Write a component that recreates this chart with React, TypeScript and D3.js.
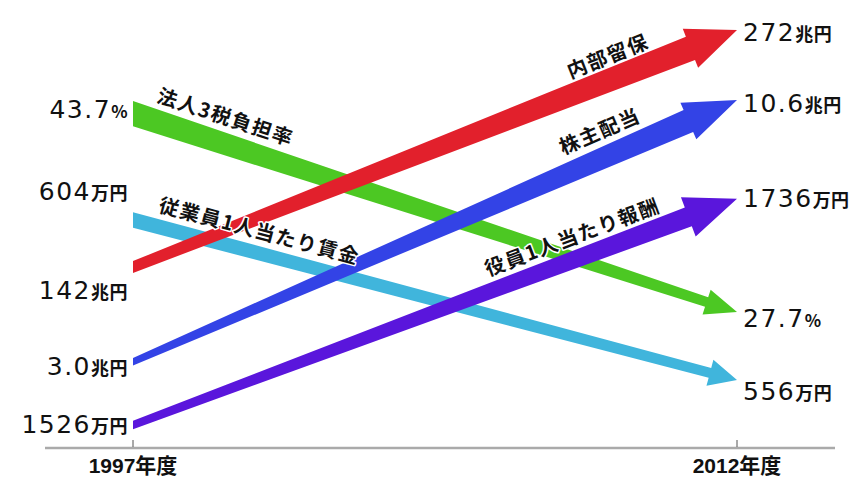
import React from "react";
import * as d3 from "d3";

// ---- data ----
const seriesNames = ["法人3税負担率", "従業員1人当たり賃金", "内部留保", "株主配当", "役員1人当たり報酬"];
const values1997 = [43.7, 604, 142, 3.0, 1526];
const values2012 = [27.7, 556, 272, 10.6, 1736];
const units = ["%", "万円", "兆円", "兆円", "万円"];
const decimals = [1, 0, 0, 1, 0];
const years = [1997, 2012];
const yearLabels = ["1997年度", "2012年度"];
const colors = ["#4cc823", "#40b5dc", "#e2202c", "#3343e6", "#5a16dc"];

// ---- layout (rows on an abstract 0..1 vertical layout scale) ----
const startRow = [0.212, 0.481, 0.6, 0.84, 1.0];
const endRow = [0.714, 0.886, 0.0, 0.177, 0.427];
const leftLabelRow = [0.223, 0.43, 0.681, 0.873, 1.02];
const rightLabelRow = [0.752, 0.937, 0.028, 0.208, 0.448];
const startWidth = [24, 15, 11, 7, 8];
const endWidth = [10, 10, 25, 24, 20];
const headHalf = [13, 13.5, 21, 20, 21];
const headLen = [32, 28, 50, 53, 52];
const labelT = [0.14, 0.2, 0.8, 0.79, 0.74];
const labelOffset = [27, 23, 24, 27, 23];

const W = 854;
const H = 480;

export default function App() {
  const x = d3.scaleLinear().domain([1997, 2012]).range([133, 737]);
  const y = d3.scaleLinear().domain([0, 1]).range([30, 425]);
  const numFont = "'DejaVu Sans', sans-serif";
  const cjk = "'Noto Sans CJK JP', sans-serif";

  const arrows = seriesNames.map((name, i) => {
    const x0 = x(years[0]);
    const y0 = y(startRow[i]);
    const x1 = x(years[1]);
    const y1 = y(endRow[i]);
    const a = Math.atan2(y1 - y0, x1 - x0);
    const ux = Math.cos(a), uy = Math.sin(a);
    const nx = -Math.sin(a), ny = Math.cos(a);
    const v0 = startWidth[i] / Math.cos(a);
    const bx = x1 - headLen[i] * ux, by = y1 - headLen[i] * uy;
    const w1 = endWidth[i] / 2;
    const hw = headHalf[i];
    const pts: [number, number][] = [
      [x0, y0 - v0 / 2],
      [bx - nx * w1, by - ny * w1],
      [bx - nx * hw, by - ny * hw],
      [x1, y1],
      [bx + nx * hw, by + ny * hw],
      [bx + nx * w1, by + ny * w1],
      [x0, y0 + v0 / 2],
    ];
    const line = d3.line();
    const path = line(pts) + "Z";
    const t = labelT[i];
    const px = x0 + t * (x1 - x0) - nx * labelOffset[i];
    const py = y0 + t * (y1 - y0) - ny * labelOffset[i];
    return { name, path, x0, y0, x1, y1, a, px, py, i };
  });

  const fmt = (v: number, d: number) => d3.format(`.${d}f`)(v);
  const unitSize = (u: string) => (u === "%" ? 17 : 18);

  return (
    <svg
      width={W}
      height={H}
      style={{ position: "absolute", left: 0, top: 0, display: "block", background: "#fff" }}
    >
      <rect x={0} y={0} width={W} height={H} fill="#fff" />
      {/* axis */}
      <line x1={45} x2={835} y1={448} y2={448} stroke="#aaaaaa" strokeWidth={2.5} />
      {years.map((yr, k) => (
        <g key={yr}>
          <line x1={x(yr)} x2={x(yr)} y1={440} y2={447} stroke="#555" strokeWidth={1} />
          <text
            x={x(yr)}
            y={473}
            textAnchor="middle"
            fontFamily={"'Liberation Sans', " + cjk}
            fontWeight={700}
            fontSize={21}
            fill="#111"
          >
            {yearLabels[k]}
          </text>
        </g>
      ))}
      {/* arrows */}
      {arrows.map((ar) => (
        <path key={ar.name} d={ar.path} fill={colors[ar.i]} />
      ))}
      {/* series labels */}
      {arrows.map((ar) => (
        <text
          key={"l" + ar.name}
          x={0}
          y={0}
          transform={`translate(${ar.px},${ar.py}) rotate(${(ar.a * 180) / Math.PI})`}
          textAnchor="middle"
          dominantBaseline="central"
          fontFamily={cjk}
          fontWeight={700}
          fontSize={20}
          letterSpacing={1.5}
          fill="#111"
          stroke="#fff"
          strokeWidth={3}
          paintOrder="stroke"
          strokeLinejoin="round"
        >
          {ar.name}
        </text>
      ))}
      {/* value labels */}
      {arrows.map((ar) => (
        <g key={"v" + ar.name}>
          <text
            x={128}
            y={y(leftLabelRow[ar.i])}
            textAnchor="end"
            fontFamily={numFont}
            fontSize={25}
            letterSpacing={1.5}
            fill="#111"
          >
            {fmt(values1997[ar.i], decimals[ar.i])}
            <tspan fontFamily={cjk} fontWeight={700} fontSize={unitSize(units[ar.i])} letterSpacing={0.5}>
              {units[ar.i]}
            </tspan>
          </text>
          <text
            x={743}
            y={y(rightLabelRow[ar.i])}
            textAnchor="start"
            fontFamily={numFont}
            fontSize={25}
            letterSpacing={1.5}
            fill="#111"
          >
            {fmt(values2012[ar.i], decimals[ar.i])}
            <tspan fontFamily={cjk} fontWeight={700} fontSize={unitSize(units[ar.i])} letterSpacing={0.5}>
              {units[ar.i]}
            </tspan>
          </text>
        </g>
      ))}
    </svg>
  );
}
